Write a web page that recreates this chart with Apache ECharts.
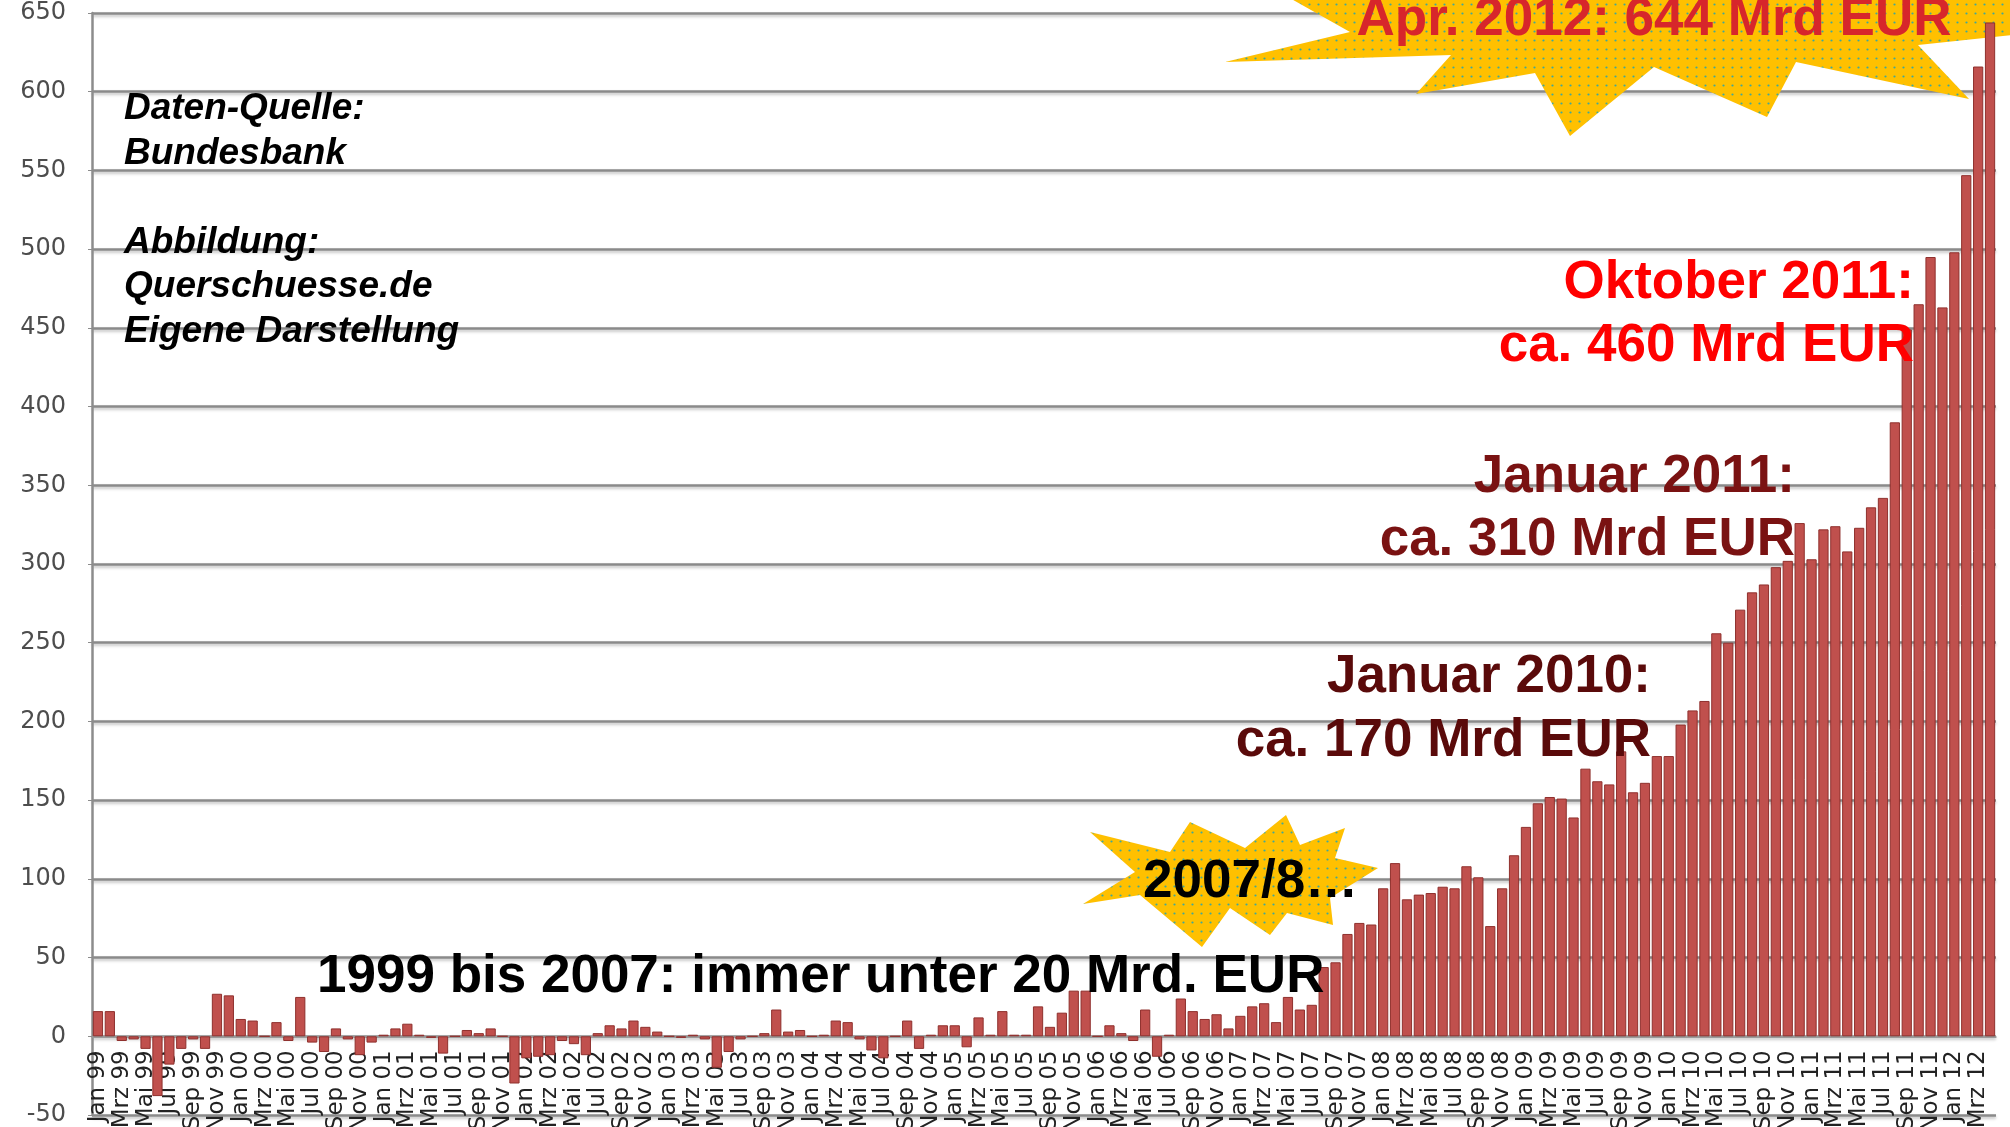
<!DOCTYPE html>
<html>
<head>
<meta charset="utf-8">
<script src="https://cdn.jsdelivr.net/npm/echarts/dist/echarts.min.js"></script>
<style>
  html, body { margin: 0; padding: 0; background: #fff; }
  #main { width: 2010px; height: 1127px; }
</style>
</head>
<body>
<div id="main"></div>
<script>
// Monatswerte in Mrd EUR
const months = ['Jan', 'Feb', 'Mrz', 'Apr', 'Mai', 'Jun', 'Jul', 'Aug', 'Sep', 'Okt', 'Nov', 'Dez']
const years = ['99', '00', '01', '02', '03', '04', '05', '06', '07', '08', '09', '10', '11', '12']
const y1999 = [16, 16, -3, -2, -8, -38, -18, -8, -2, -8, 27, 26]
const y2000 = [11, 10, 0, 9, -3, 25, -4, -10, 5, -2, -12, -4]
const y2001 = [1, 5, 8, 1, -1, -11, 0, 4, 2, 5, 0, -30]
const y2002 = [-14, -13, -12, -3, -5, -12, 2, 7, 5, 10, 6, 3]
const y2003 = [0, -1, 1, -2, -20, -10, -2, 0, 2, 17, 3, 4]
const y2004 = [0, 1, 10, 9, -2, -9, -14, 0, 10, -8, 1, 7]
const y2005 = [7, -7, 12, 1, 16, 1, 1, 19, 6, 15, 29, 29]
const y2006 = [0, 7, 2, -3, 17, -13, 1, 24, 16, 11, 14, 5]
const y2007 = [13, 19, 21, 9, 25, 17, 20, 44, 47, 65, 72, 71]
const y2008 = [94, 110, 87, 90, 91, 95, 94, 108, 101, 70, 94, 115]
const y2009 = [133, 148, 152, 151, 139, 170, 162, 160, 181, 155, 161, 178]
const y2010 = [178, 198, 207, 213, 256, 250, 271, 282, 287, 298, 302, 326]
const y2011 = [303, 322, 324, 308, 323, 336, 342, 390, 449, 465, 495, 463]
const y2012 = [498, 547, 616, 644]

const values = [].concat(y1999, y2000, y2001, y2002, y2003, y2004, y2005,
    y2006, y2007, y2008, y2009, y2010, y2011, y2012)
const categories = []
years.forEach(y => {
    months.forEach(m => {
        if (categories.length < values.length) categories.push(m + ' ' + y)
    })
})

// gelbes Punktmuster fuer die Sterne
const tile = document.createElement('canvas')
tile.width = 9
tile.height = 9
const ctx = tile.getContext('2d')
ctx.fillStyle = '#ffc000'
ctx.fillRect(0, 0, 9, 9)
ctx.fillStyle = '#3fa89a'
ctx.beginPath()
ctx.arc(4.5, 4.5, 1.1, 0, Math.PI * 2)
ctx.fill()
const dots = { image: tile, repeat: 'repeat' }

const starApr = [[1225, 62], [1451, 55], [1416, 94], [1535, 73], [1570, 136], [1654, 67],
    [1767, 117], [1796, 62], [1969, 99], [1918, 45], [2030, 33], [2030, -30],
    [1240, -30], [1350, 32]]
const star2007 = [[1083, 904], [1140, 895], [1202, 947], [1230, 908], [1270, 935],
    [1287, 913], [1333, 925], [1330, 898], [1378, 868], [1335, 858], [1345, 828],
    [1300, 845], [1286, 815], [1245, 848], [1190, 822], [1170, 852], [1090, 832],
    [1135, 872]]

const font = 'Liberation Sans, Arial, sans-serif'
function label(text, x, y, color, align) {
    return {
        type: 'text', z: 100, x: x, y: y,
        style: {
            text: text, fill: color, font: 'bold 53px ' + font,
            textAlign: align, textVerticalAlign: 'middle'
        }
    }
}

const gridTop = 13
const gridBottom = 12
// Abstand der Nulllinie vom unteren Rand der Zeichenflaeche (-50 .. 0)
const zeroOffset = 50 / 700 * (1127 - gridTop - gridBottom)

const chart = echarts.init(document.getElementById('main'))
chart.setOption({
    animation: false,
    backgroundColor: '#ffffff',
    grid: {
        left: 92, right: 14, top: gridTop, bottom: gridBottom,
        containLabel: false, outerBoundsMode: 'none'
    },
    xAxis: {
        type: 'category',
        data: categories,
        offset: -zeroOffset,
        axisLine: { onZero: false, lineStyle: { color: '#9a9a9a', width: 1.5 } },
        axisTick: { interval: 1, length: 7, lineStyle: { color: '#8a8a8a' } },
        axisLabel: {
            interval: 1, rotate: 90, margin: 14,
            fontFamily: 'DejaVu Sans', fontSize: 23, color: '#222222'
        }
    },
    yAxis: {
        type: 'value',
        min: -50, max: 650, interval: 50,
        axisLine: { show: true, lineStyle: { color: '#8c8c8c', width: 2.5 } },
        axisTick: { show: true, length: 4, lineStyle: { color: '#8c8c8c' } },
        axisLabel: { margin: 26, fontFamily: 'DejaVu Sans', fontSize: 24, color: '#4d4d4d' },
        splitLine: {
            lineStyle: {
                color: '#8a8a8a', width: 2.5,
                shadowColor: 'rgba(0,0,0,0.25)', shadowBlur: 3, shadowOffsetY: 2
            }
        }
    },
    series: [{
        type: 'bar',
        data: values,
        barCategoryGap: '14%',
        itemStyle: { color: '#c0504d', borderColor: '#8f302d', borderWidth: 1 }
    }],
    graphic: [
        { type: 'polygon', z: 1, shape: { points: starApr }, style: { fill: dots } },
        { type: 'polygon', z: 1, shape: { points: star2007 }, style: { fill: dots } },
        {
            type: 'text', z: 100, x: 124, y: 87,
            style: {
                text: 'Daten-Quelle:\nBundesbank\n\nAbbildung:\nQuerschuesse.de\nEigene Darstellung',
                fill: '#000', font: 'italic bold 37px ' + font, lineHeight: 44.5
            }
        },
        label('1999 bis 2007: immer unter 20 Mrd. EUR', 317, 977, '#000', 'left'),
        label('2007/8…', 1143, 882, '#000', 'left'),
        label('Januar 2010:', 1651, 677, '#5a0a0a', 'right'),
        label('ca. 170 Mrd EUR', 1651, 741, '#5a0a0a', 'right'),
        label('Januar 2011:', 1795, 477, '#7a1212', 'right'),
        label('ca. 310 Mrd EUR', 1795, 540, '#7a1212', 'right'),
        label('Oktober 2011:', 1914, 283, '#ff0000', 'right'),
        label('ca. 460 Mrd EUR', 1914, 346, '#ff0000', 'right'),
        label('Apr. 2012: 644 Mrd EUR', 1654, 20, '#d7262b', 'center')
    ]
})
</script>
</body>
</html>
